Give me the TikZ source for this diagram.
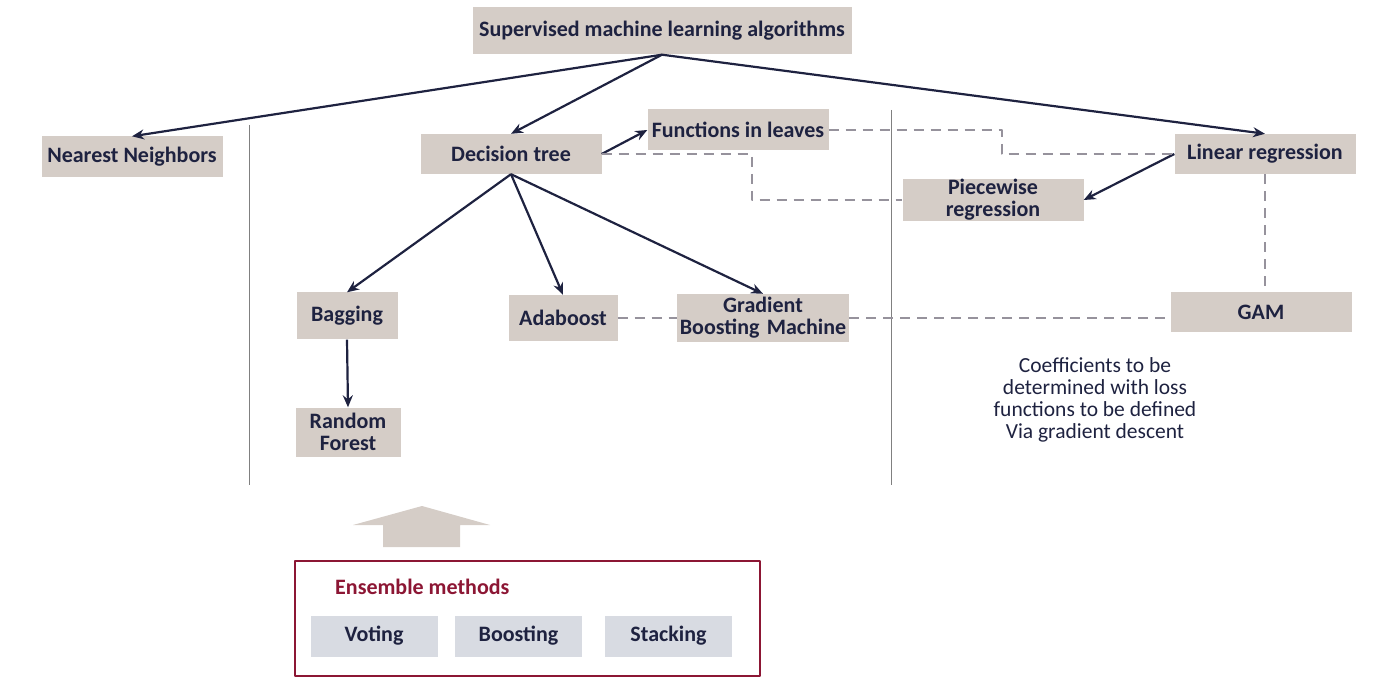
\documentclass[tikz,border=0pt]{standalone}
\usepackage{fontspec}
\setmainfont{Carlito}
\usetikzlibrary{arrows.meta}
\definecolor{boxfill}{RGB}{213,205,199}
\definecolor{navy}{RGB}{30,34,64}
\definecolor{dashgrey}{RGB}{150,146,156}
\definecolor{ensred}{RGB}{140,22,52}
\definecolor{ensfill}{RGB}{216,219,226}
\begin{document}
\begin{tikzpicture}[x=1pt,y=-1pt,>={Stealth[length=12pt,width=10pt]},line join=round,
		font=\fontsize{22}{22}\selectfont\bfseries,
		algo/.style={fill=boxfill,text=navy,inner sep=0pt,align=center},
		link/.style={->,draw=navy,line width=2.2pt},
		rel/.style={draw=dashgrey,line width=2.2pt,dash pattern=on 10pt off 7pt},
		ens/.style={fill=ensfill,text=navy,minimum width=127pt,minimum height=41pt,inner sep=0pt}]
	\useasboundingbox (0,0) rectangle (1400,700);
	\node[algo,minimum width=379pt,minimum height=47pt] (sup) at (662,31) {Supervised machine learning algorithms};
	\node[algo,minimum width=181pt,minimum height=41pt] (nn) at (132,157) {Nearest Neighbors};
	\node[algo,minimum width=181pt,minimum height=40pt] (dt) at (511,154) {Decision tree};
	\node[algo,minimum width=181pt,minimum height=41pt] (fl) at (738,130) {Functions in leaves};
	\node[algo,minimum width=181pt,minimum height=40pt] (lr) at (1265,154) {Linear regression};
	\node[algo,minimum width=181pt,minimum height=41pt,text width=181pt] (pw) at (993,200) {Piecewise\\regression};
	\node[algo,minimum width=101pt,minimum height=47pt] (bag) at (347,316) {Bagging};
	\node[algo,minimum width=109pt,minimum height=46pt] (ada) at (563,318) {Adaboost};
	\node[algo,minimum width=172pt,minimum height=48pt,text width=172pt] (gbm) at (763,318) {Gradient\\Boosting Machine};
	\node[algo,minimum width=181pt,minimum height=40pt] (gam) at (1261,312) {GAM};
	\node[algo,minimum width=105pt,minimum height=49pt,text width=105pt] (rf) at (348,432) {Random\\Forest};
	\node[text=navy,font=\fontsize{21.5}{22}\selectfont,align=center] (coef) at (1095,400) {Coefficients to be\\determined with loss\\functions to be defined\\Via gradient descent};
	\draw[gray,line width=.8pt] (249,125) -- (249,485);
	\draw[gray,line width=.8pt] (891,110) -- (891,485);
	\draw[link] (sup.south) -- (nn.north);
	\draw[link] (sup.south) -- (dt.north);
	\draw[link] (sup.south) -- (lr.north);
	\draw[link] (dt.east) -- (fl.west);
	\draw[link] (lr.west) -- (pw.east);
	\draw[link] (dt.south) -- (bag.north);
	\draw[link] (dt.south) -- (ada.north);
	\draw[link] (dt.south) -- (gbm.north);
	\draw[link] (bag.south) -- (rf.north);
	\draw[rel] (dt.east) -- ++(150,0) |- (pw.west);
	\draw[rel] (fl.east) -- ++(173,0) |- (lr.west);
	\draw[rel] (lr.south) -- (lr.south |- gam.north);
	\draw[rel] (ada.east) -- (gbm.west);
	\draw[rel] (gbm.east) -- (gbm.east -| gam.west);
	\fill[boxfill] (383,547) -- (383,525) -- (353,525) -- (422,506) -- (490,525) -- (460,525) -- (460,547) -- cycle;
	\node[draw=ensred,line width=2.2pt,minimum width=465pt,minimum height=115pt,inner sep=0pt] (ensbox) at (527.5,618.5) {};
	\node[text=ensred,anchor=west,inner sep=0pt] (enstitle) at (335,587) {Ensemble methods};
	\node[ens] (vote) at (374,636) {Voting};
	\node[ens] (boost) at (518.5,636) {Boosting};
	\node[ens] (stack) at (668.5,636) {Stacking};
\end{tikzpicture}
\end{document}
